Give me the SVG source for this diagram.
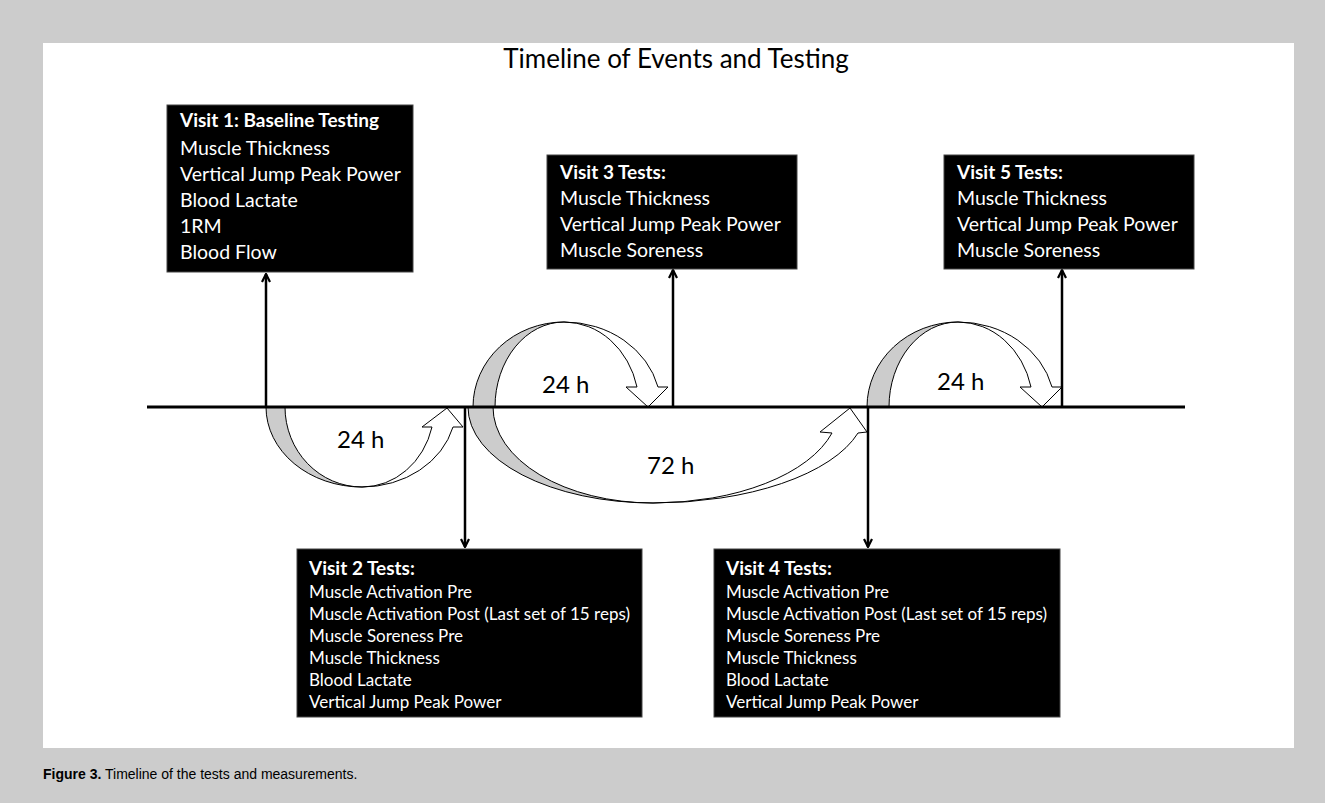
<svg xmlns="http://www.w3.org/2000/svg" width="1325" height="803" viewBox="0 0 1325 803">
<style>
.bg{fill:#cccccc}
.panel{fill:#ffffff}
.box{fill:#000000;stroke:#444;stroke-width:1}
.hd{font-family:Lato,"Liberation Sans",sans-serif;font-weight:bold;fill:#ffffff;font-size:19px}
.t1{font-family:Lato,"Liberation Sans",sans-serif;fill:#ffffff;font-size:19.5px}
.t2{font-family:Lato,"Liberation Sans",sans-serif;fill:#ffffff;font-size:17px}
.lbl{font-family:Lato,"Liberation Sans",sans-serif;fill:#000000;font-size:24px}
.title{font-family:Lato,"Liberation Sans",sans-serif;fill:#000000;font-size:26px}
.back{fill:#cccccc;stroke:#000;stroke-width:1}
.front{fill:#ffffff;stroke:#000;stroke-width:1}
.tl{stroke:#000;stroke-width:3;fill:none}
.va{stroke:#000;stroke-width:2.5;fill:none;marker-end:url(#ah)}
.cap{font-family:"Liberation Sans",Arial,sans-serif;font-size:14px;fill:#000}
</style>
<defs>
<marker id="ah" viewBox="0 0 10 10" refX="9" refY="5" markerWidth="10" markerHeight="10" markerUnits="userSpaceOnUse" orient="auto">
<path d="M1,1 L9,5 L1,9" fill="none" stroke="#000" stroke-width="2.2"/>
</marker>
</defs>
<rect class="bg" x="0" y="0" width="1325" height="803"/>
<rect class="panel" x="43" y="43" width="1251" height="705"/>
<text class="title" x="676" y="68" text-anchor="middle">Timeline of Events and Testing</text>

<g id="connectors">
<g id="arrow-24h-1">
<path class="back" d="M266,407 A96,80 0 0 0 362,487 A77,80 0 0 1 285,407 Z"/>
<path class="front" d="M362,487 A94,80 0 0 0 453,427 L463,427 L447,408 L422,427 L432,427 A72,80 0 0 1 362,487 Z"/>
</g>
<g id="arrow-24h-2">
<path class="back" d="M473,407 A91,85 0 0 1 564,322 A69,85 0 0 0 495,407 Z"/>
<path class="front" d="M564,322 A96.7,85 0 0 1 658,387 L668,387 L648,407 L626,387 L637,387 A75,85 0 0 0 564,322 Z"/>
</g>
<g id="arrow-72h">
<path class="back" d="M468,407 A185,96 0 0 0 653,503 A160,96 0 0 1 493,407 Z"/>
<path class="front" d="M653,503 A213,96 0 0 0 858,433 L867,432 L850,408 L820,432 L832,433 A186,96 0 0 1 653,503 Z"/>
</g>
<g id="arrow-24h-3">
<path class="back" d="M867,407 A91,85 0 0 1 958,322 A69,85 0 0 0 889,407 Z"/>
<path class="front" d="M958,322 A96.7,85 0 0 1 1052,387 L1062,387 L1042,407 L1020,387 L1031,387 A75,85 0 0 0 958,322 Z"/>
</g>
<line class="tl" x1="147" y1="407" x2="1185" y2="407"/>
<line class="va" x1="266" y1="407" x2="266" y2="274"/>
<line class="va" x1="673" y1="407" x2="673" y2="270"/>
<line class="va" x1="1062" y1="407" x2="1062" y2="270"/>
<line class="va" x1="465" y1="407" x2="465" y2="547"/>
<line class="va" x1="868" y1="407" x2="868" y2="547"/>
<text class="lbl" x="337" y="448">24 h</text>
<text class="lbl" x="542" y="393">24 h</text>
<text class="lbl" x="937" y="390">24 h</text>
<text class="lbl" x="647" y="474">72 h</text>
</g>

<g id="visit1">
<rect class="box" x="167" y="105" width="246" height="167"/>
<text class="hd" x="180" y="127">Visit 1: Baseline Testing</text>
<text class="t1" x="180" y="155">Muscle Thickness</text>
<text class="t1" x="180" y="181">Vertical Jump Peak Power</text>
<text class="t1" x="180" y="207">Blood Lactate</text>
<text class="t1" x="180" y="233">1RM</text>
<text class="t1" x="180" y="259">Blood Flow</text>
</g>
<g id="visit3">
<rect class="box" x="547" y="155" width="250" height="114"/>
<text class="hd" x="560" y="179">Visit 3 Tests:</text>
<text class="t1" x="560" y="205">Muscle Thickness</text>
<text class="t1" x="560" y="231">Vertical Jump Peak Power</text>
<text class="t1" x="560" y="257">Muscle Soreness</text>
</g>
<g id="visit5">
<rect class="box" x="944" y="155" width="250" height="114"/>
<text class="hd" x="957" y="179">Visit 5 Tests:</text>
<text class="t1" x="957" y="205">Muscle Thickness</text>
<text class="t1" x="957" y="231">Vertical Jump Peak Power</text>
<text class="t1" x="957" y="257">Muscle Soreness</text>
</g>
<g id="visit2">
<rect class="box" x="297" y="549" width="345" height="168"/>
<text class="hd" x="309" y="575">Visit 2 Tests:</text>
<text class="t2" x="309" y="598">Muscle Activation Pre</text>
<text class="t2" x="309" y="620">Muscle Activation Post (Last set of 15 reps)</text>
<text class="t2" x="309" y="642">Muscle Soreness Pre</text>
<text class="t2" x="309" y="664">Muscle Thickness</text>
<text class="t2" x="309" y="686">Blood Lactate</text>
<text class="t2" x="309" y="708">Vertical Jump Peak Power</text>
</g>
<g id="visit4">
<rect class="box" x="714" y="549" width="346" height="168"/>
<text class="hd" x="726" y="575">Visit 4 Tests:</text>
<text class="t2" x="726" y="598">Muscle Activation Pre</text>
<text class="t2" x="726" y="620">Muscle Activation Post (Last set of 15 reps)</text>
<text class="t2" x="726" y="642">Muscle Soreness Pre</text>
<text class="t2" x="726" y="664">Muscle Thickness</text>
<text class="t2" x="726" y="686">Blood Lactate</text>
<text class="t2" x="726" y="708">Vertical Jump Peak Power</text>
</g>
<text class="cap" x="43" y="779"><tspan font-weight="bold">Figure 3.</tspan> Timeline of the tests and measurements.</text>
</svg>
